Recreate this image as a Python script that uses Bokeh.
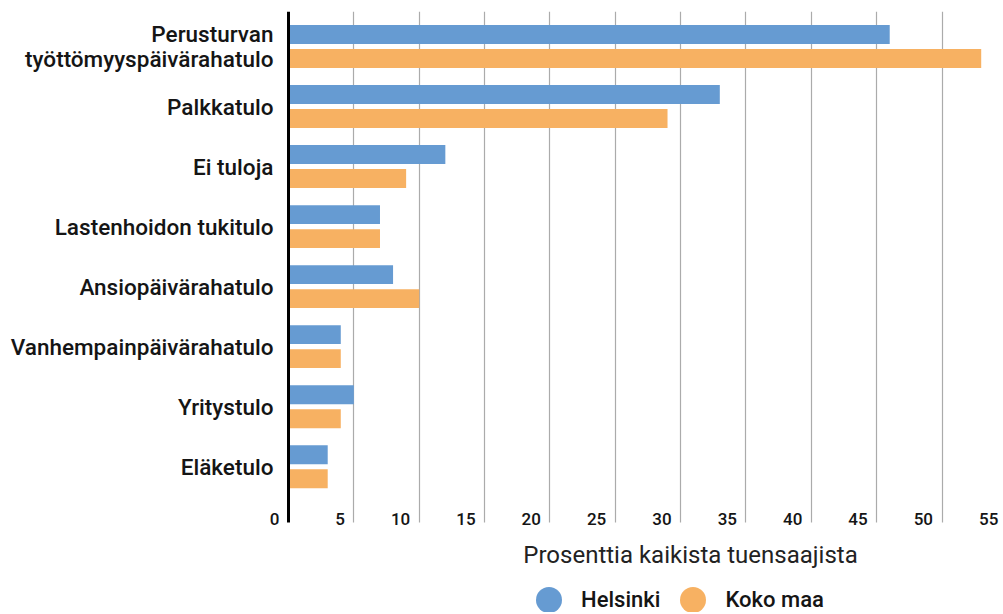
from bokeh.plotting import figure
from bokeh.models import (ColumnDataSource, Range1d, FixedTicker, LabelSet, Label, Grid,
                          Legend, LegendItem, Span, BoxAnnotation)
from bokeh.core.properties import value
from bokeh.transform import dodge
from bokeh.embed import file_html
from bokeh.resources import INLINE

categories = ["Perusturvan\ntyöttömyyspäivärahatulo", "Palkkatulo", "Ei tuloja",
              "Lastenhoidon tukitulo", "Ansiopäivärahatulo", "Vanhempainpäivärahatulo",
              "Yritystulo", "Eläketulo"]
helsinki = [46, 33, 12, 7, 8, 4, 5, 3]
koko_maa = [53, 29, 9, 7, 10, 4, 4, 3]
x_ticks = [0, 5, 10, 15, 20, 25, 30, 35, 40, 45, 50, 55]
x_tick_labels = [str(t) for t in x_ticks]
series_names = ["Helsinki", "Koko maa"]
axis_title = "Prosenttia kaikista tuensaajista"

BLUE = "#669bd2"
ORANGE = "#f7b162"
TXT = "#151515"
MED = "Roboto Medium, Roboto"

W, H = 1000, 612
TOP = 11                 # empty border above the plot frame
PX_X = 13.07             # pixels per percent unit
X0 = 288                 # pixel position of 0 inside the frame
PX_Y = 60.03             # pixels per category
Y0 = 35                  # pixel offset of first category centre from frame top
PLOT_BOTTOM = 511        # pixel extent of the bar area below frame top
LINE_GAP = 24.5          # pixel distance between lines of a wrapped label

frame_h = H - TOP
x_range = Range1d(-X0 / PX_X, (W - X0) / PX_X)
y_range = Range1d((frame_h - Y0) / PX_Y, -Y0 / PX_Y)
y_cut = (PLOT_BOTTOM - Y0) / PX_Y

src = ColumnDataSource(data=dict(y=list(range(len(categories))), cat=categories,
                                 helsinki=helsinki, koko=koko_maa))

# one row per text line of each category label, each line right-aligned
line_y, line_text, line_off = [], [], []
for i, c in enumerate(categories):
    parts = c.split("\n")
    n = len(parts)
    for k, t in enumerate(parts):
        line_y.append(i)
        line_text.append(t)
        line_off.append((k - (n - 1) / 2) * -LINE_GAP)
lab_src = ColumnDataSource(data=dict(y=line_y, text=line_text, off=line_off))

p = figure(width=W, height=H, output_backend="svg", toolbar_location=None,
           x_range=x_range, y_range=y_range, x_axis_location=None, y_axis_location=None,
           min_border_left=0, min_border_right=0, min_border_top=TOP, min_border_bottom=0)
p.outline_line_color = None
p.background_fill_color = "white"
p.border_fill_color = "white"
for g in list(p.grid):
    g.visible = False

grid = Grid(dimension=0, ticker=FixedTicker(ticks=x_ticks[1:]),
            grid_line_color="#ababab", grid_line_width=1.2)
p.add_layout(grid)

r1 = p.hbar(y=dodge("y", -0.2, range=p.y_range), right="helsinki", left=0, height=0.315,
            source=src, fill_color=BLUE, line_color=None)
r2 = p.hbar(y=dodge("y", 0.2, range=p.y_range), right="koko", left=0, height=0.315,
            source=src, fill_color=ORANGE, line_color=None)

# vertical axis line at 0
p.add_layout(Span(location=0, dimension="height", line_color="black", line_width=3))
# blank area under the plot region (hides grid / axis line below the tick labels)
p.add_layout(BoxAnnotation(top=y_cut, bottom=y_range.start + 5, fill_color="white",
                           fill_alpha=1.0, line_color=None))

cat_labels = LabelSet(x=0, y="y", text="text", source=lab_src, x_offset=-15, y_offset="off",
                      text_align="right", text_baseline="middle", text_font=value(MED),
                      text_font_style="normal", text_font_size="22.5px", text_color=TXT)
p.add_layout(cat_labels)

tick_src = ColumnDataSource(data=dict(x=x_ticks, label=x_tick_labels))
tick_labels = LabelSet(x="x", y=y_cut - 0.05, text="label", source=tick_src, x_offset=-9,
                       text_align="right", text_baseline="middle", text_font=value(MED),
                       text_font_style="normal", text_font_size="17px", text_color=TXT)
p.add_layout(tick_labels)

p.add_layout(Label(x=690, y=58, x_units="screen", y_units="screen", text=axis_title,
                   text_align="center", text_baseline="middle", text_font="Roboto",
                   text_font_style="normal", text_font_size="24px", text_color="#222222"))

nan = float("nan")
lsrc_h = ColumnDataSource(data=dict(x=[nan], y=[nan]))
lsrc_k = ColumnDataSource(data=dict(x=[nan], y=[nan]))
s1 = p.scatter(x="x", y="y", source=lsrc_h, marker="circle", size=26, fill_color=BLUE, line_color=None)
s2 = p.scatter(x="x", y="y", source=lsrc_k, marker="circle", size=26, fill_color=ORANGE, line_color=None)
legend = Legend(items=[LegendItem(label=series_names[0], renderers=[s1]),
                       LegendItem(label=series_names[1], renderers=[s2])],
                orientation="horizontal", location=(516, -20), glyph_width=65, glyph_height=65,
                label_standoff=0, spacing=0, padding=0, margin=0,
                border_line_color=None, background_fill_alpha=0,
                label_text_font=MED, label_text_font_style="normal", label_text_font_size="22px",
                label_text_color=TXT)
p.add_layout(legend)

open("out.html", "w").write(file_html(p, INLINE))
